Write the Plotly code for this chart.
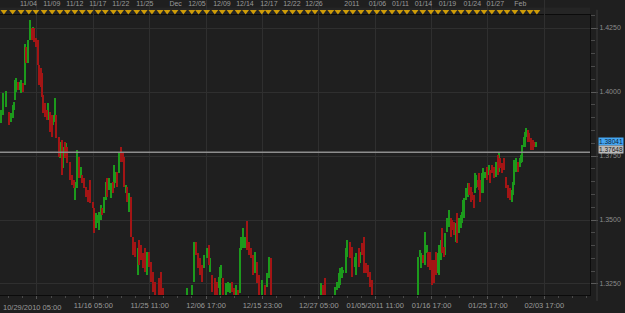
import plotly.graph_objects as go

# ---------------- data (H6 bars, x = trading hours since 10/29/2010 05:00) ----------------
bar_hours = [
    2, 5, 11, 18, 28, 35, 39, 43, 47, 51,
    56, 62, 66, 70, 77, 81, 88, 94, 98, 101,
    105, 111, 117, 121, 126, 130, 134, 140, 144, 150,
    154, 161, 164, 169, 173, 183, 187, 191, 196, 200,
    204, 208, 216, 222, 228, 233, 239, 245, 249, 255,
    259, 265, 272, 278, 288, 292, 298, 302, 307, 311,
    315, 321, 327, 331, 337, 342, 348, 352, 358, 362,
    368, 375, 379, 383, 389, 393, 399, 405, 412, 418,
    426, 430, 436, 442, 449, 455, 461, 467, 473, 480,
    490, 496, 502,
    578, 593, 599, 605, 611, 617, 624, 630, 638, 644,
    650, 656, 665, 671, 675, 679, 683, 689, 698, 704,
    710, 716, 722, 728, 735, 741, 745, 751, 757, 763,
    770, 776, 782, 788, 794, 801, 809, 819, 825, 831,
    838,
    992, 998, 1004, 1035, 1041, 1047, 1051, 1055, 1060, 1068,
    1072, 1080, 1086, 1095, 1099, 1107, 1113, 1117, 1123, 1130,
    1136, 1142, 1148,
    1292, 1296, 1300, 1306, 1311, 1317, 1321, 1329, 1335, 1341,
    1346, 1350, 1356, 1360, 1366, 1370, 1374, 1381, 1387, 1393,
    1397, 1403, 1407, 1411, 1416, 1422, 1426, 1430, 1434, 1438,
    1444, 1448, 1453, 1457, 1463, 1466, 1469, 1475, 1479, 1483,
    1488, 1492, 1498, 1504, 1510, 1514, 1518, 1525, 1531, 1537,
    1541, 1545, 1551, 1555, 1562, 1568, 1574, 1580, 1584, 1588,
    1592, 1599, 1605, 1609, 1613, 1617, 1621, 1625, 1630, 1634,
    1638, 1644, 1650, 1656,
]
bar_high = [
    1.3930, 1.3923, 1.3995, 1.4004, 1.3923, 1.3917, 1.3949, 1.3962, 1.4047, 1.4053,
    1.4040, 1.4040, 1.4047, 1.4034, 1.4186, 1.4177, 1.4203, 1.4281, 1.4249, 1.4255,
    1.4249, 1.4210, 1.4203, 1.4105, 1.4092, 1.4073, 1.3988, 1.3956, 1.3930, 1.3956,
    1.3923, 1.3910, 1.3910, 1.3975, 1.3910, 1.3826, 1.3806, 1.3812, 1.3787, 1.3806,
    1.3799, 1.3787, 1.3728, 1.3676, 1.3656, 1.3650, 1.3773, 1.3747, 1.3708, 1.3676,
    1.3663, 1.3630, 1.3617, 1.3656, 1.3572, 1.3546, 1.3526, 1.3520, 1.3533, 1.3559,
    1.3546, 1.3591, 1.3650, 1.3663, 1.3663, 1.3643, 1.3650, 1.3715, 1.3689, 1.3689,
    1.3767, 1.3787, 1.3767, 1.3747, 1.3637, 1.3630, 1.3604, 1.3591, 1.3435, 1.3415,
    1.3389, 1.3422, 1.3402, 1.3370, 1.3389, 1.3376, 1.3376, 1.3337, 1.3298, 1.3259,
    1.3272, 1.3298, 1.3233,
    1.3233, 1.3246, 1.3415, 1.3415, 1.3370, 1.3350, 1.3324, 1.3363, 1.3389, 1.3402,
    1.3350, 1.3285, 1.3272, 1.3259, 1.3279, 1.3318, 1.3324, 1.3272, 1.3253, 1.3259,
    1.3253, 1.3259, 1.3233, 1.3246, 1.3227, 1.3389, 1.3435, 1.3467, 1.3435, 1.3496,
    1.3415, 1.3389, 1.3363, 1.3376, 1.3337, 1.3285, 1.3266, 1.3246, 1.3292, 1.3357,
    1.3350,
    1.3255, 1.3246, 1.3272, 1.3240, 1.3259, 1.3292, 1.3311, 1.3318, 1.3305, 1.3389,
    1.3422, 1.3415, 1.3396, 1.3357, 1.3370, 1.3389, 1.3376, 1.3409, 1.3435, 1.3331,
    1.3324, 1.3298, 1.3266,
    1.3357, 1.3383, 1.3370, 1.3363, 1.3454, 1.3402, 1.3376, 1.3376, 1.3344, 1.3344,
    1.3376, 1.3370, 1.3402, 1.3422, 1.3467, 1.3396, 1.3448, 1.3507, 1.3539, 1.3507,
    1.3500, 1.3493, 1.3487, 1.3526, 1.3507, 1.3520, 1.3533, 1.3578, 1.3585, 1.3624,
    1.3643, 1.3643, 1.3630, 1.3611, 1.3598, 1.3682, 1.3676, 1.3656, 1.3682, 1.3656,
    1.3682, 1.3702, 1.3689, 1.3708, 1.3715, 1.3695, 1.3715, 1.3708, 1.3728, 1.3754,
    1.3760, 1.3741, 1.3721, 1.3741, 1.3669, 1.3637, 1.3624, 1.3617, 1.3650, 1.3734,
    1.3741, 1.3728, 1.3741, 1.3754, 1.3793, 1.3826, 1.3845, 1.3858, 1.3852, 1.3839,
    1.3819, 1.3812, 1.3806, 1.3806,
]
bar_low = [
    1.3878, 1.3897, 1.3910, 1.3943, 1.3871, 1.3884, 1.3897, 1.3930, 1.3969, 1.4001,
    1.4008, 1.4008, 1.3995, 1.4001, 1.4027, 1.4112, 1.4112, 1.4203, 1.4203, 1.4203,
    1.4197, 1.4177, 1.4105, 1.4027, 1.4021, 1.3982, 1.3917, 1.3904, 1.3891, 1.3891,
    1.3845, 1.3826, 1.3871, 1.3884, 1.3819, 1.3747, 1.3741, 1.3676, 1.3702, 1.3741,
    1.3760, 1.3721, 1.3656, 1.3637, 1.3624, 1.3578, 1.3624, 1.3663, 1.3663, 1.3643,
    1.3624, 1.3591, 1.3572, 1.3565, 1.3546, 1.3448, 1.3467, 1.3487, 1.3461, 1.3500,
    1.3520, 1.3526, 1.3578, 1.3591, 1.3617, 1.3585, 1.3604, 1.3624, 1.3643, 1.3630,
    1.3682, 1.3728, 1.3728, 1.3630, 1.3604, 1.3572, 1.3533, 1.3435, 1.3363, 1.3357,
    1.3285, 1.3324, 1.3344, 1.3311, 1.3298, 1.3285, 1.3318, 1.3259, 1.3220, 1.3170,
    1.3160, 1.3165, 1.3175,
    1.3160, 1.3180, 1.3259, 1.3363, 1.3311, 1.3285, 1.3259, 1.3311, 1.3350, 1.3324,
    1.3298, 1.3220, 1.3190, 1.3185, 1.3233, 1.3195, 1.3272, 1.3190, 1.3175, 1.3220,
    1.3214, 1.3220, 1.3180, 1.3185, 1.3170, 1.3214, 1.3383, 1.3389, 1.3389, 1.3383,
    1.3363, 1.3350, 1.3285, 1.3292, 1.3253, 1.3190, 1.3180, 1.3170, 1.3240, 1.3272,
    1.3180,
    1.3180, 1.3175, 1.3185, 1.3190, 1.3227, 1.3233, 1.3246, 1.3272, 1.3292, 1.3292,
    1.3357, 1.3350, 1.3279, 1.3318, 1.3285, 1.3318, 1.3331, 1.3363, 1.3292, 1.3292,
    1.3279, 1.3240, 1.3185,
    1.3180, 1.3357, 1.3311, 1.3331, 1.3324, 1.3370, 1.3318, 1.3305, 1.3246, 1.3253,
    1.3285, 1.3292, 1.3285, 1.3344, 1.3370, 1.3357, 1.3363, 1.3454, 1.3474, 1.3435,
    1.3461, 1.3441, 1.3415, 1.3409, 1.3448, 1.3467, 1.3487, 1.3507, 1.3507, 1.3578,
    1.3591, 1.3598, 1.3572, 1.3578, 1.3546, 1.3604, 1.3624, 1.3630, 1.3617, 1.3572,
    1.3604, 1.3604, 1.3663, 1.3656, 1.3676, 1.3643, 1.3682, 1.3663, 1.3669, 1.3676,
    1.3689, 1.3702, 1.3682, 1.3695, 1.3624, 1.3585, 1.3578, 1.3572, 1.3598, 1.3637,
    1.3689, 1.3689, 1.3708, 1.3721, 1.3728, 1.3786, 1.3786, 1.3826, 1.3806, 1.3806,
    1.3773, 1.3773, 1.3786, 1.3786,
]
bar_dir = (
    "uuuuduuuuu" "duududuudu" "dddddddddu" "dduuddudud" "udddduudud"
    "dddddduuuu" "duuduuduud" "udddududdd" "uddddudddd" "ddd"
    "uuudddduud" "uddduuuduu" "udduduuuud" "dddudduduu" "d"
    "udduuuuuuu" "udduududdd" "ddd"
    "uuuduudddd" "duuudduuud" "dduduuuuuu" "udddduuddd" "uuududddud"
    "udddddduuu" "uduuuuuudd" "dddu"
)

last_price = 1.38041
bid_price = 1.37648

y_ticks = [1.3250, 1.3500, 1.3750, 1.4000, 1.4250]

grid_hours = [114, 288, 462, 636, 810, 984, 1158, 1332, 1506, 1680]
bottom_labels = ["", "11/16 05:00", "11/25 11:00", "12/06 17:00", "12/15 23:00",
                 "12/27 05:00", "01/05/2011 11:00", "01/16 17:00", "01/25 17:00", "02/03 17:00"]
first_label = "10/29/2010 05:00"

top_labels = ["11/04", "11/09", "11/12", "11/17", "11/22", "11/25", "Dec", "12/05", "12/09",
              "12/14", "12/17", "12/22", "12/26", "2011", "01/06", "01/11", "01/14", "01/19",
              "01/24", "01/27", "Feb"]
top_label_hours = [88, 160, 231, 302, 373, 447, 542, 608, 685, 756, 830, 901, 969, 1086,
                   1165, 1236, 1307, 1381, 1458, 1529, 1606]

event_hours = [12, 39, 65, 89, 111, 136, 161, 185, 208, 231, 254, 278, 303, 325, 350, 372,
               396, 422, 445, 469, 494, 516, 540, 566, 592, 613, 638, 663, 686, 710, 735,
               758, 782, 808, 828, 854, 880, 903, 926, 951, 972, 997, 1021, 1043, 1068, 1089,
               1114, 1139, 1163, 1185, 1210, 1234, 1256, 1281, 1305, 1330, 1352, 1376, 1401,
               1423, 1447, 1472, 1494, 1518, 1543, 1565, 1589, 1614, 1636, 1657]

n = len(bar_hours)
if not (len(bar_high) == n and len(bar_low) == n and len(bar_dir) == n):
    raise SystemExit(f"length mismatch {n} {len(bar_high)} {len(bar_low)} {len(bar_dir)}")

# ---------------- styling ----------------
BG = "#1f1f1f"
GRID = "#2f2f2f"
GREEN = "#1c9a1c"
RED = "#a31515"
TXT = "#9a9a9a"
FONT = "Liberation Sans"

fig = go.Figure()
for flag, col in (("u", GREEN), ("d", RED)):
    idx = [i for i in range(n) if bar_dir[i] == flag]
    fig.add_trace(go.Bar(
        x=[bar_hours[i] for i in idx],
        y=[bar_high[i] - bar_low[i] for i in idx],
        base=[bar_low[i] for i in idx],
        width=3.9,
        marker=dict(color=col, line=dict(width=0)),
        hoverinfo="skip", showlegend=False,
    ))

# event markers strip (top)
fig.add_trace(go.Scatter(
    x=event_hours, y=[0.24] * len(event_hours), yaxis="y2", mode="markers",
    marker=dict(symbol="triangle-down", size=6, color="#cf9c08", line=dict(width=0)),
    hoverinfo="skip", showlegend=False, cliponaxis=False,
))
fig.add_trace(go.Scatter(
    x=top_label_hours, y=[0.70] * len(top_label_hours), yaxis="y2", mode="text",
    text=top_labels, textfont=dict(family=FONT, size=7, color=TXT),
    hoverinfo="skip", showlegend=False, cliponaxis=False,
))

Y_DOM_TOP = 280 / 295

fig.update_layout(
    width=625, height=313,
    margin=dict(l=0, r=35, t=0, b=18),
    paper_bgcolor=BG, plot_bgcolor=BG,
    barmode="overlay", bargap=0,
    showlegend=False,
    font=dict(family=FONT, size=7, color=TXT),
    xaxis=dict(
        range=[0, 1821], tickmode="array", tickvals=grid_hours, ticktext=bottom_labels,
        showgrid=True, gridcolor=GRID, gridwidth=1, zeroline=False,
        ticks="outside", ticklen=3, tickcolor="#555555",
        tickfont=dict(family=FONT, size=7.5, color=TXT),
        showline=True, linecolor="#0b0b0b", linewidth=1, mirror=True,
        minor=dict(tickmode="linear", tick0=114, dtick=43.5, ticks="outside",
                   ticklen=2, tickcolor="#4a4a4a", showgrid=False),
        fixedrange=True,
    ),
    yaxis=dict(
        domain=[0, Y_DOM_TOP], range=[1.32070, 1.43008], side="right",
        tickmode="array", tickvals=y_ticks, tickformat=".4f",
        showgrid=True, gridcolor=GRID, gridwidth=1, zeroline=False,
        ticks="outside", ticklen=7, tickcolor="#5a5a5a",
        tickfont=dict(family=FONT, size=7, color="#8c8c8c"),
        showline=True, linecolor="#0b0b0b", linewidth=1, mirror=True,
        minor=dict(tickmode="linear", tick0=1.325, dtick=0.005, ticks="outside",
                   ticklen=4, tickcolor="#4a4a4a", showgrid=False),
        fixedrange=True,
    ),
    yaxis2=dict(domain=[Y_DOM_TOP, 1], range=[0, 1], visible=False, anchor="x",
                fixedrange=True),
    shapes=[
        # event strip band
        dict(type="rect", xref="paper", yref="y2", x0=0, x1=1, y0=0, y1=0.5,
             fillcolor="#252525", line=dict(width=0), layer="below"),
        # current bid line
        dict(type="line", xref="paper", yref="y", x0=0, x1=1, y0=bid_price, y1=bid_price,
             line=dict(color="#8e8e8e", width=1.5)),
        # right scale line
        dict(type="line", xref="paper", yref="paper", x0=597 / 590, x1=597 / 590,
             y0=-0.02, y1=0.967, line=dict(color="#3a3a3a", width=1)),
    ],
    annotations=[
        dict(text=first_label, xref="paper", yref="paper", x=0.002, y=-0.043,
             xanchor="left", yanchor="middle", showarrow=False,
             font=dict(family=FONT, size=7.5, color=TXT)),
        dict(text=f"{last_price:.5f}", xref="paper", yref="y", x=598 / 590, y=last_price,
             xanchor="left", yanchor="middle", showarrow=False, bgcolor="#45a6f2",
             borderpad=0, yshift=0.5, font=dict(family=FONT, size=6.5, color="#0b1f3a")),
        dict(text=f"{bid_price:.5f}", xref="paper", yref="y", x=598 / 590, y=bid_price,
             xanchor="left", yanchor="middle", showarrow=False, bgcolor="#b9b9b9",
             borderpad=0, yshift=2.5, font=dict(family=FONT, size=6.5, color="#1a1a1a")),
    ],
)

fig.write_html("out.html")
